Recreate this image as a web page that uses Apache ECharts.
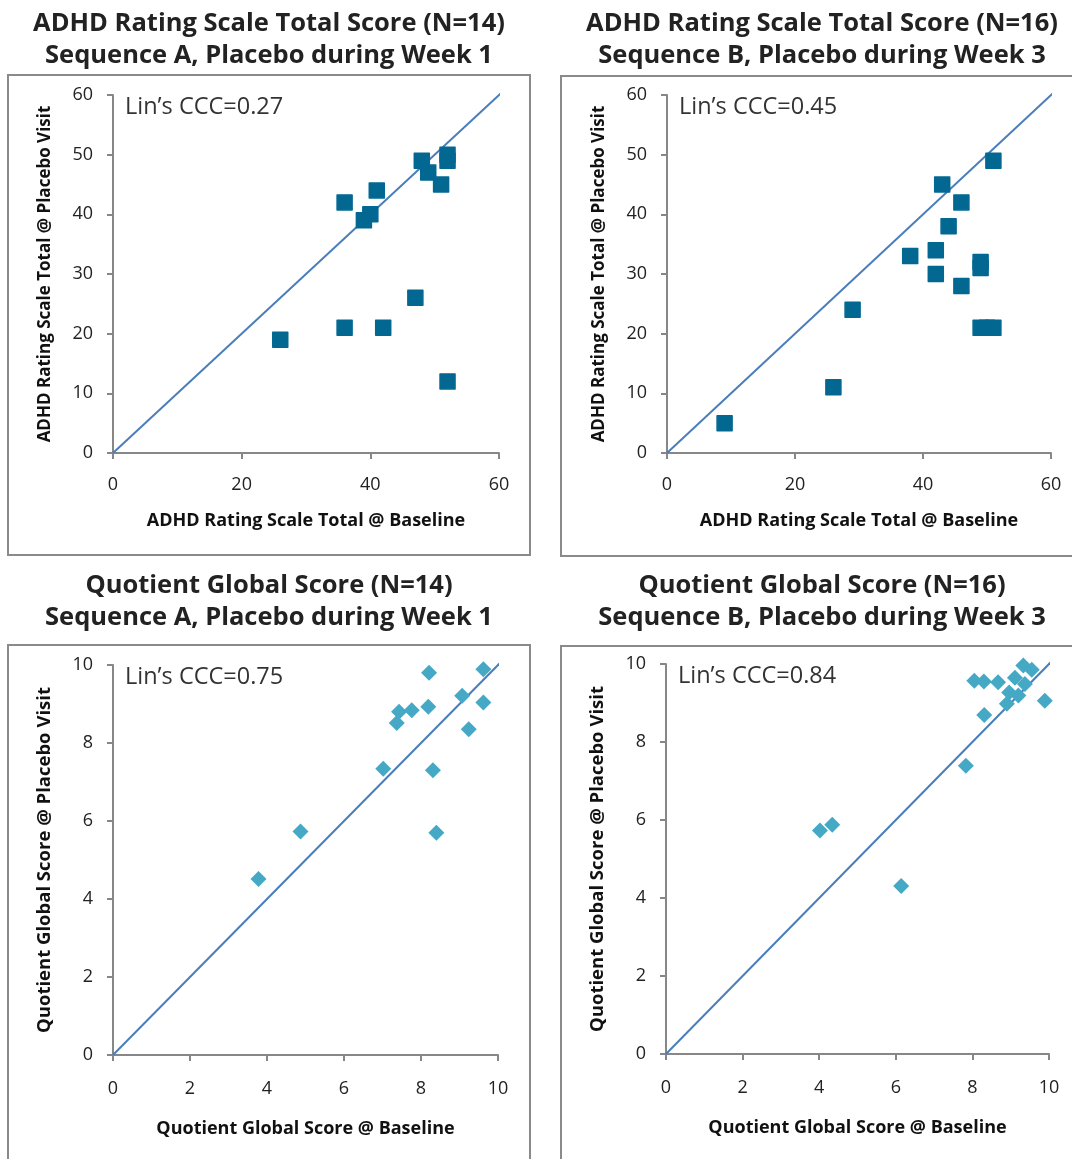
<!DOCTYPE html>
<html>
<head>
<meta charset="utf-8">
<style>
  html, body { margin: 0; padding: 0; background: #fff; }
  #chart { width: 1072px; height: 1159px; }
</style>
<script src="https://cdn.jsdelivr.net/npm/echarts@6/dist/echarts.min.js"></script>
</head>
<body>
<div id="chart"></div>
<script>
// ADHD rating scale, sequence A (baseline, placebo visit)
const adhdA_baseline = [26, 36, 36, 39, 40, 41, 42, 47, 48, 49, 51, 52, 52, 52]
const adhdA_placebo  = [19, 42, 21, 39, 40, 44, 21, 26, 49, 47, 45, 50, 49, 12]

// ADHD rating scale, sequence B
const adhdB_baseline = [9, 26, 29, 38, 42, 42, 43, 44, 46, 46, 49, 49, 49, 50, 51, 51]
const adhdB_placebo  = [5, 11, 24, 33, 34, 30, 45, 38, 42, 28, 32, 31, 21, 21, 21, 49]

// Quotient global score, sequence A
const qgsA_baseline = [3.78, 4.87, 7.02, 7.37, 7.43, 7.76, 8.19, 8.21, 8.31, 8.40, 9.07, 9.24, 9.62, 9.62]
const qgsA_placebo  = [4.51, 5.73, 7.34, 8.51, 8.80, 8.84, 8.93, 9.80, 7.30, 5.70, 9.21, 8.35, 9.89, 9.04]

// Quotient global score, sequence B
const qgsB_baseline = [4.02, 4.34, 6.14, 7.83, 8.05, 8.30, 8.31, 8.67, 8.90, 8.96, 9.11, 9.20, 9.33, 9.37, 9.55, 9.89]
const qgsB_placebo  = [5.73, 5.88, 4.31, 7.39, 9.57, 9.55, 8.69, 9.53, 8.98, 9.27, 9.65, 9.19, 9.96, 9.49, 9.85, 9.06]

// identity (line of agreement) end points
const identityAdhd = [0, 61]
const identityQgs = [0, 10.15]

const titles = [
  'ADHD Rating Scale Total Score (N=14)\nSequence A, Placebo during Week 1',
  'ADHD Rating Scale Total Score (N=16)\nSequence B, Placebo during Week 3',
  'Quotient Global Score (N=14)\nSequence A, Placebo during Week 1',
  'Quotient Global Score (N=16)\nSequence B, Placebo during Week 3'
]
const cccLabels = ["Lin’s CCC=0.27", "Lin’s CCC=0.45", "Lin’s CCC=0.75", "Lin’s CCC=0.84"]
const xNames = ['ADHD Rating Scale Total @ Baseline', 'ADHD Rating Scale Total @ Baseline',
  'Quotient Global Score @ Baseline', 'Quotient Global Score @ Baseline']
const yNames = ['ADHD Rating Scale Total @ Placebo Visit', 'ADHD Rating Scale Total @ Placebo Visit',
  'Quotient Global Score @ Placebo Visit', 'Quotient Global Score @ Placebo Visit']

const FONT = '"Open Sans", "Noto Sans", sans-serif'
const AXIS_COLOR = '#878787'

const zip = (a, b) => a.map((v, i) => [v, b[i]])

const grids = [
  { left: 113, top: 95, width: 386, height: 358 },
  { left: 667, top: 95, width: 384, height: 358 },
  { left: 113, top: 665, width: 385, height: 390 },
  { left: 666, top: 664, width: 383, height: 390 }
]
const boxes = [
  { x: 8, y: 75, width: 522, height: 480 },
  { x: 561, y: 76, width: 522, height: 480 },
  { x: 8, y: 645, width: 522, height: 540 },
  { x: 561, y: 646, width: 522, height: 540 }
]
const titleCenters = [269, 822, 269, 822]
const titleTops = [8, 8, 570, 570]

function makeAxis(i, isX) {
  const top = i < 2
  const max = top ? 60 : 10
  const interval = top ? (isX ? 20 : 10) : 2
  let nameSize = 18
  if (!isX) nameSize = top ? 17 : 18.5
  return {
    type: 'value',
    gridIndex: i,
    min: 0,
    max: max,
    interval: interval,
    name: isX ? xNames[i] : yNames[i],
    nameLocation: 'middle',
    nameGap: isX ? (top ? 59 : 65) : 59,
    nameTextStyle: {
      fontFamily: FONT,
      fontWeight: 'bold',
      fontSize: nameSize,
      color: '#111'
    },
    axisLine: { show: true, onZero: false, lineStyle: { color: AXIS_COLOR, width: 2 } },
    axisTick: { show: true, inside: false, length: 6, lineStyle: { color: AXIS_COLOR, width: 2 } },
    axisLabel: {
      margin: isX ? (top ? 23 : 25) : 20,
      fontFamily: FONT,
      fontSize: 18,
      color: '#222'
    },
    splitLine: { show: false }
  }
}

const scatterData = [
  zip(adhdA_baseline, adhdA_placebo),
  zip(adhdB_baseline, adhdB_placebo),
  zip(qgsA_baseline, qgsA_placebo),
  zip(qgsB_baseline, qgsB_placebo)
]

const series = []
scatterData.forEach((d, i) => {
  const ident = i < 2 ? identityAdhd : identityQgs
  const isTop = i < 2
  const color = isTop ? '#036891' : '#45a9c5'
  series.push({
    type: 'line',
    xAxisIndex: i,
    yAxisIndex: i,
    data: zip(ident, ident),
    showSymbol: false,
    clip: false,
    lineStyle: { color: '#4a7ebb', width: 2 },
    silent: true,
    z: 1
  })
  series.push({
    type: 'scatter',
    xAxisIndex: i,
    yAxisIndex: i,
    data: d,
    symbol: isTop ? 'rect' : 'diamond',
    symbolSize: isTop ? 15 : 16,
    itemStyle: {
      color: color,
      opacity: 1,
      borderColor: color,
      borderWidth: isTop ? 1.5 : 0,
      borderJoin: 'round'
    },
    z: 2
  })
})

const graphics = []
boxes.forEach(b => {
  graphics.push({
    type: 'rect',
    shape: b,
    style: { fill: 'none', stroke: '#8a8a8a', lineWidth: 2 },
    z: -1,
    silent: true
  })
})
grids.forEach((g, i) => {
  graphics.push({
    type: 'text',
    x: g.left + 12,
    y: g.top + 12,
    style: {
      text: cccLabels[i],
      fontFamily: FONT,
      fontSize: 23.5,
      fill: '#333',
      verticalAlign: 'middle'
    }
  })
})

const option = {
  animation: false,
  backgroundColor: '#fff',
  title: titles.map((t, i) => ({
    text: t,
    left: titleCenters[i],
    top: titleTops[i],
    textAlign: 'center',
    padding: 0,
    textStyle: {
      fontFamily: FONT,
      fontWeight: 'bold',
      fontSize: 25.5,
      lineHeight: 32,
      color: '#222'
    }
  })),
  grid: grids,
  xAxis: grids.map((g, i) => makeAxis(i, true)),
  yAxis: grids.map((g, i) => makeAxis(i, false)),
  series: series,
  graphic: graphics
}

const myChart = echarts.init(document.getElementById('chart'))
myChart.setOption(option)
</script>
</body>
</html>
